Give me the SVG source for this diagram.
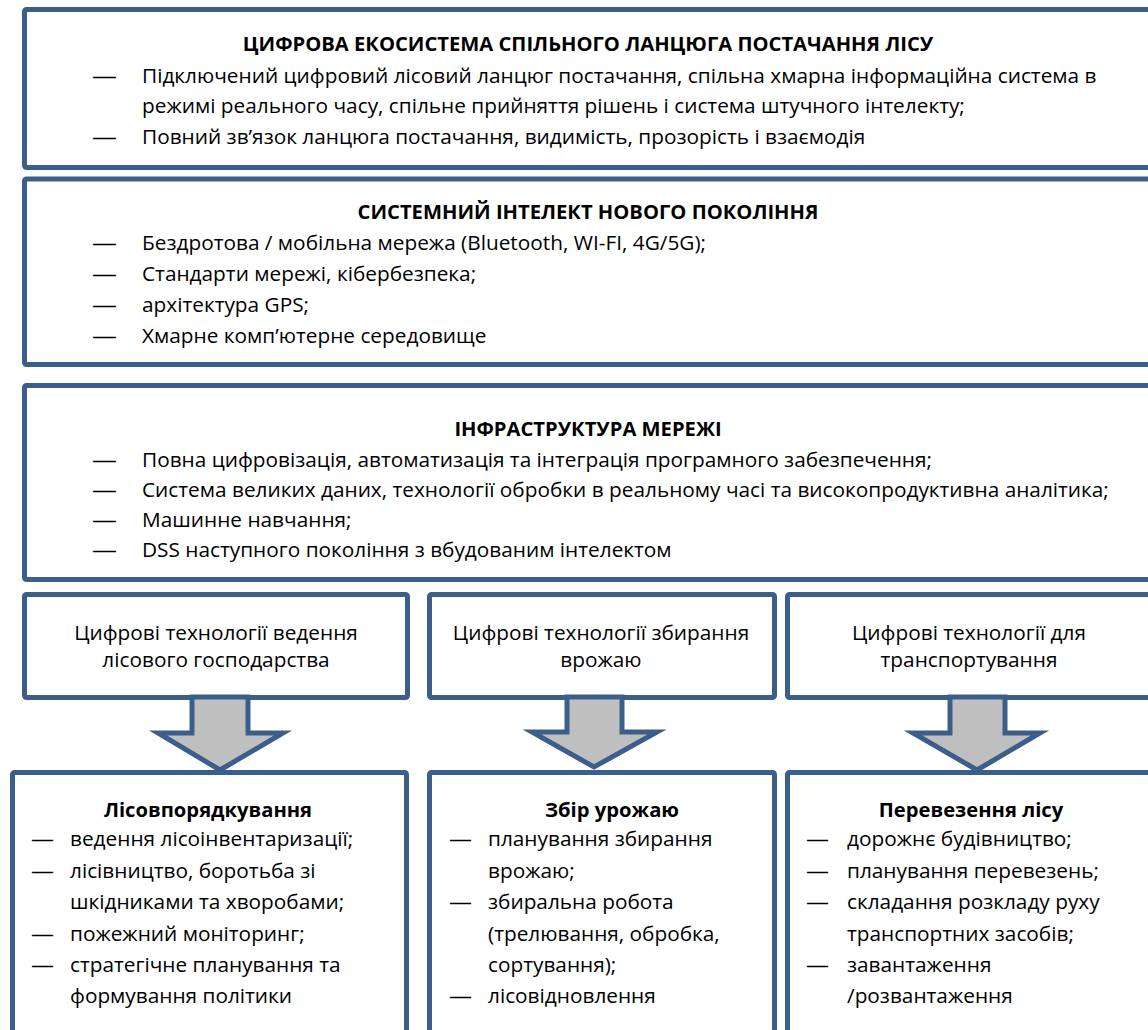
<svg xmlns="http://www.w3.org/2000/svg" width="1148" height="1030" viewBox="0 0 1148 1030">
<style>
.box{fill:#ffffff;stroke:#3c5e8b;stroke-width:5}
.arr{fill:#bfbfbf;stroke:#3c5e8b;stroke-width:5;stroke-linejoin:miter}
text{font-family:"Open Sans","Noto Sans","Liberation Sans",sans-serif;font-size:20.8px;fill:#000}
.t{font-weight:bold;text-anchor:middle;font-size:20.2px}
.c{text-anchor:middle}
.d{font-size:20px}
</style>
<rect width="1148" height="1030" fill="#ffffff"/>
<g id="eco">
<rect class="box" x="24.5" y="9.5" width="1130" height="158" rx="2"/>
<text class="t" x="588" y="51">ЦИФРОВА ЕКОСИСТЕМА СПІЛЬНОГО ЛАНЦЮГА ПОСТАЧАННЯ ЛІСУ</text>
<text class="d" x="92" y="83" textLength="25" lengthAdjust="spacingAndGlyphs">—</text><text x="142" y="83">Підключений цифровий лісовий ланцюг постачання, спільна хмарна інформаційна система в</text>
<text x="142" y="113">режимі реального часу, спільне прийняття рішень і система штучного інтелекту;</text>
<text class="d" x="92" y="144" textLength="25" lengthAdjust="spacingAndGlyphs">—</text><text x="142" y="144">Повний зв’язок ланцюга постачання, видимість, прозорість і взаємодія</text>
</g>
<g id="intel">
<rect class="box" x="24.5" y="179" width="1130" height="185.5" rx="2"/>
<text class="t" x="588" y="219">СИСТЕМНИЙ ІНТЕЛЕКТ НОВОГО ПОКОЛІННЯ</text>
<text class="d" x="92" y="250" textLength="25" lengthAdjust="spacingAndGlyphs">—</text><text x="142" y="250">Бездротова / мобільна мережа (Bluetooth, WI-FI, 4G/5G);</text>
<text class="d" x="92" y="281" textLength="25" lengthAdjust="spacingAndGlyphs">—</text><text x="142" y="281">Стандарти мережі, кібербезпека;</text>
<text class="d" x="92" y="312" textLength="25" lengthAdjust="spacingAndGlyphs">—</text><text x="142" y="312">архітектура GPS;</text>
<text class="d" x="92" y="343" textLength="25" lengthAdjust="spacingAndGlyphs">—</text><text x="142" y="343">Хмарне комп’ютерне середовище</text>
</g>
<g id="infra">
<rect class="box" x="24.5" y="385.5" width="1130" height="194" rx="2"/>
<text class="t" x="588" y="436">ІНФРАСТРУКТУРА МЕРЕЖІ</text>
<text class="d" x="92" y="467" textLength="25" lengthAdjust="spacingAndGlyphs">—</text><text x="142" y="467">Повна цифровізація, автоматизація та інтеграція програмного забезпечення;</text>
<text class="d" x="92" y="497" textLength="25" lengthAdjust="spacingAndGlyphs">—</text><text x="142" y="497">Система великих даних, технології обробки в реальному часі та високопродуктивна аналітика;</text>
<text class="d" x="92" y="527" textLength="25" lengthAdjust="spacingAndGlyphs">—</text><text x="142" y="527">Машинне навчання;</text>
<text class="d" x="92" y="557" textLength="25" lengthAdjust="spacingAndGlyphs">—</text><text x="142" y="557">DSS наступного покоління з вбудованим інтелектом</text>
</g>
<g id="tech-forest">
<rect class="box" x="24.5" y="594.5" width="383" height="103" rx="2"/>
<text class="c" x="216" y="640">Цифрові технології ведення</text>
<text class="c" x="216" y="667">лісового господарства</text>
</g>
<g id="tech-harvest">
<rect class="box" x="429.5" y="594.5" width="345" height="103" rx="2"/>
<text class="c" x="601" y="640">Цифрові технології збирання</text>
<text class="c" x="601" y="667">врожаю</text>
</g>
<g id="tech-transport">
<rect class="box" x="787.5" y="594.5" width="367" height="103" rx="2"/>
<text class="c" x="969" y="640">Цифрові технології для</text>
<text class="c" x="969" y="667">транспортування</text>
</g>
<g id="mgmt">
<rect class="box" x="12.5" y="772.5" width="394" height="280" rx="2"/>
<text class="t" x="208" y="817">Лісовпорядкування</text>
<text class="d" x="31" y="846" textLength="23" lengthAdjust="spacingAndGlyphs">—</text><text x="70" y="846">ведення лісоінвентаризації;</text>
<text class="d" x="31" y="878" textLength="23" lengthAdjust="spacingAndGlyphs">—</text><text x="70" y="878">лісівництво, боротьба зі</text>
<text x="70" y="909">шкідниками та хворобами;</text>
<text class="d" x="31" y="941" textLength="23" lengthAdjust="spacingAndGlyphs">—</text><text x="70" y="941">пожежний моніторинг;</text>
<text class="d" x="31" y="972" textLength="23" lengthAdjust="spacingAndGlyphs">—</text><text x="70" y="972">стратегічне планування та</text>
<text x="70" y="1003">формування політики</text>
</g>
<g id="harvest">
<rect class="box" x="429.5" y="772.5" width="345" height="280" rx="2"/>
<text class="t" x="612" y="817">Збір урожаю</text>
<text class="d" x="449" y="846" textLength="23" lengthAdjust="spacingAndGlyphs">—</text><text x="488" y="846">планування збирання</text>
<text x="488" y="878">врожаю;</text>
<text class="d" x="449" y="909" textLength="23" lengthAdjust="spacingAndGlyphs">—</text><text x="488" y="909">збиральна робота</text>
<text x="488" y="941">(трелювання, обробка,</text>
<text x="488" y="972">сортування);</text>
<text class="d" x="449" y="1003" textLength="23" lengthAdjust="spacingAndGlyphs">—</text><text x="488" y="1003">лісовідновлення</text>
</g>
<g id="transport">
<rect class="box" x="787.5" y="772.5" width="367" height="280" rx="2"/>
<text class="t" x="971" y="817">Перевезення лісу</text>
<text class="d" x="806" y="846" textLength="23" lengthAdjust="spacingAndGlyphs">—</text><text x="847" y="846">дорожнє будівництво;</text>
<text class="d" x="806" y="878" textLength="23" lengthAdjust="spacingAndGlyphs">—</text><text x="847" y="878">планування перевезень;</text>
<text class="d" x="806" y="909" textLength="23" lengthAdjust="spacingAndGlyphs">—</text><text x="847" y="909">складання розкладу руху</text>
<text x="847" y="941">транспортних засобів;</text>
<text class="d" x="806" y="972" textLength="23" lengthAdjust="spacingAndGlyphs">—</text><text x="847" y="972">завантаження</text>
<text x="847" y="1003">/розвантаження</text>
</g>
<g id="connectors">
<polygon class="arr" points="192,697 248,697 248,733 283,733 220,770 158,733 192,733"/>
<polygon class="arr" points="567,697 622,697 622,732 657,732 594,767 532,732 567,732"/>
<polygon class="arr" points="950,697 1005,697 1005,733 1040,733 977,770 913,733 950,733"/>
</g>
</svg>
